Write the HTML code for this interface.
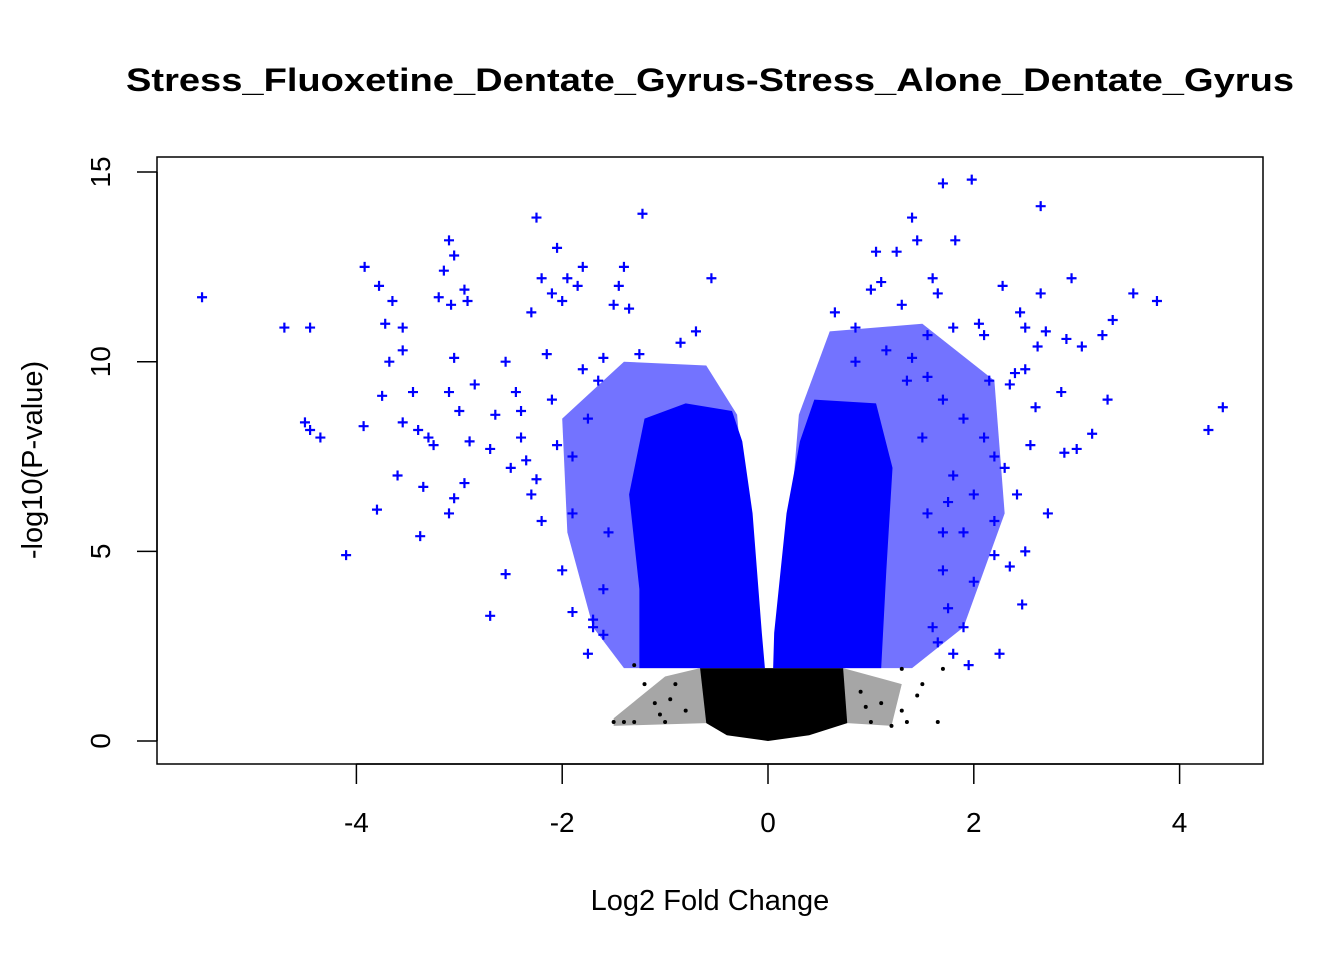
<!DOCTYPE html>
<html><head><meta charset="utf-8"><style>
body{margin:0;background:#fff}
svg text{font-family:"Liberation Sans",Arial,sans-serif}
</style></head><body>
<svg id="chart" width="1344" height="960" xmlns="http://www.w3.org/2000/svg">
<rect width="1344" height="960" fill="#fff"/>
<text x="710" y="91" font-size="32" font-weight="bold" text-anchor="middle" textLength="1168" lengthAdjust="spacingAndGlyphs">Stress_Fluoxetine_Dentate_Gyrus-Stress_Alone_Dentate_Gyrus</text>
<g id="marks"></g>
<rect x="157" y="157" width="1106" height="607" fill="none" stroke="#000" stroke-width="1.5"/>
<g id="axes"></g>
<text x="710" y="910" font-size="29" text-anchor="middle">Log2 Fold Change</text>
<text transform="translate(42,460) rotate(-90)" font-size="29" text-anchor="middle">-log10(P-value)</text>
</svg>
<script>
const xTicks=[-4,-2,0,2,4];
const yTicks=[0,5,10,15];
const sigX=[-5.5,-4.7,-4.45,-4.5,-4.45,-4.35,-4.1,-3.92,-3.93,-3.8,-3.78,-3.75,-3.72,-3.68,-3.65,-3.55,-3.55,-3.55,-3.6,-3.45,-3.4,-3.38,-3.35,-3.3,-3.25,-3.2,-3.15,-3.1,-3.05,-3.08,-3.05,-3.0,-3.1,-3.1,-3.05,-2.95,-2.95,-2.92,-2.9,-2.85,-2.7,-2.7,-2.65,-2.55,-2.55,-2.5,-2.45,-2.4,-2.3,-2.25,-2.2,-2.15,-2.1,-2.05,-2.0,-1.95,-1.85,-1.8,-1.75,-1.7,-1.5,-1.45,-1.4,-1.35,-1.22,-1.25,-0.85,-0.7,-0.55,-2.0,-1.9,-2.2,-2.3,-1.8,-2.1,-1.9,-1.6,-1.7,-1.6,-1.55,-1.9,-2.05,-1.75,-1.65,-1.6,-2.4,-2.25,-2.35,
1.7,1.98,2.65,1.4,1.45,1.82,1.25,1.05,1.6,1.65,2.28,2.95,3.55,3.78,2.65,2.45,3.35,3.25,3.05,2.9,2.7,2.62,2.5,2.1,1.8,1.55,1.3,1.0,0.65,4.42,4.28,3.3,3.15,3.0,2.88,2.85,2.72,2.5,2.47,2.42,2.35,2.25,2.2,1.9,1.8,1.75,2.6,2.5,2.35,2.2,2.1,2.0,1.9,2.3,2.4,2.55,2.05,2.15,2.0,1.7,1.95,0.85,1.15,1.4,1.35,1.7,1.1,0.85,1.6,1.7,1.55,1.8,1.5,1.65,1.75,1.9,2.2,1.55];
const sigY=[11.7,10.9,10.9,8.4,8.2,8.0,4.9,12.5,8.3,6.1,12.0,9.1,11.0,10.0,11.6,10.9,10.3,8.4,7.0,9.2,8.2,5.4,6.7,8.0,7.8,11.7,12.4,13.2,12.8,11.5,10.1,8.7,9.2,6.0,6.4,6.8,11.9,11.6,7.9,9.4,3.3,7.7,8.6,4.4,10.0,7.2,9.2,8.7,11.3,13.8,12.2,10.2,11.8,13.0,11.6,12.2,12.0,12.5,2.3,3.0,11.5,12.0,12.5,11.4,13.9,10.2,10.5,10.8,12.2,4.5,3.4,5.8,6.5,9.8,9.0,7.5,10.1,3.2,4.0,5.5,6.0,7.8,8.5,9.5,2.8,8.0,6.9,7.4,
14.7,14.8,14.1,13.8,13.2,13.2,12.9,12.9,12.2,11.8,12.0,12.2,11.8,11.6,11.8,11.3,11.1,10.7,10.4,10.6,10.8,10.4,10.9,10.7,10.9,10.7,11.5,11.9,11.3,8.8,8.2,9.0,8.1,7.7,7.6,9.2,6.0,5.0,3.6,6.5,4.6,2.3,4.9,3.0,2.3,3.5,8.8,9.8,9.4,7.5,8.0,6.5,8.5,7.2,9.7,7.8,11.0,9.5,4.2,5.5,2.0,10.9,10.3,10.1,9.5,9.0,12.1,10.0,3.0,4.5,6.0,7.0,8.0,2.6,6.3,5.5,5.8,9.6];
const leftSparseX=[-0.3,-0.6,-1.4,-2.0,-1.95,-1.7,-1.4,-0.1];
const leftSparseY=[8.6,9.9,10.0,8.5,5.5,3.0,1.92,1.92];
const rightSparseX=[0.3,0.6,1.5,2.2,2.3,1.9,1.4,0.1];
const rightSparseY=[8.6,10.8,11.0,9.5,6.0,3.0,1.92,1.92];
const leftLobeX=[-0.03,-0.06,-0.15,-0.25,-0.35,-0.8,-1.2,-1.35,-1.25,-1.25];
const leftLobeY=[1.92,2.85,6.0,7.9,8.7,8.9,8.5,6.5,4.0,1.92];
const rightLobeX=[0.05,0.06,0.18,0.31,0.45,1.05,1.21,1.15,1.1];
const rightLobeY=[1.92,2.85,6.0,7.9,9.0,8.9,7.2,4.5,1.92];
const coreX=[-0.66,0.73,0.77,0.4,0,-0.4,-0.6];
const coreY=[1.92,1.92,0.47,0.15,0,0.15,0.47];
const nsSparseX=[-0.66,-1.0,-1.5,-1.5,-0.6,0.73,1.3,1.2,0.77];
const nsSparseY=[1.92,1.7,0.6,0.4,0.47,1.92,1.5,0.4,0.47];
const nsX=[-1.0,-1.3,-1.5,-1.1,-1.2,-0.9,-1.3,1.65,1.5,1.3,1.1,1.0,1.3,1.7,1.35,-0.8,0.9,-1.4,-1.05,1.2,0.95,-0.95,1.45];
const nsY=[0.5,0.5,0.5,1.0,1.5,1.5,2.0,0.5,1.5,1.9,1.0,0.5,0.8,1.9,0.5,0.8,1.3,0.5,0.7,0.4,0.9,1.1,1.2];
const X=v=>768+v*102.9, Y=v=>741-v*37.93;
const NS="http://www.w3.org/2000/svg";
const marks=document.getElementById('marks'), axes=document.getElementById('axes');
function mk(tag,attrs,parent){const e=document.createElementNS(NS,tag);for(const k in attrs)e.setAttribute(k,attrs[k]);parent.appendChild(e);return e;}
function poly(xs,ys,fill,op,name){const p=mk('polygon',{points:xs.map((x,i)=>X(x)+','+Y(ys[i])).join(' '),fill:fill,'fill-opacity':op,stroke:'none'},marks);

}
poly(nsSparseX,nsSparseY,'#000',0.35,'nonsignificant-sparse');
poly(coreX,coreY,'#000',1,'nonsignificant-core');
poly(leftSparseX,leftSparseY,'#0000ff',0.55,'significant-left-sparse');
poly(rightSparseX,rightSparseY,'#0000ff',0.55,'significant-right-sparse');
poly(leftLobeX,leftLobeY,'#0000ff',1,'significant-left-lobe');
poly(rightLobeX,rightLobeY,'#0000ff',1,'significant-right-lobe');
nsX.forEach((v,i)=>{const c=mk('circle',{cx:X(v),cy:Y(nsY[i]),r:2,fill:'#000'},marks);

});
sigX.forEach((v,i)=>{const x=X(v),y=Y(sigY[i]);const p=mk('path',{d:`M${x-5} ${y}H${x+5}M${x} ${y-5}V${y+5}`,stroke:'#0000ff','stroke-width':2.2},marks);

});
xTicks.forEach(t=>{mk('line',{x1:X(t),x2:X(t),y1:764,y2:784,stroke:'#000','stroke-width':1.5},axes);
const s=mk('text',{x:X(t),y:832,'font-size':28,'text-anchor':'middle'},axes);s.textContent=t;

});
yTicks.forEach(t=>{mk('line',{x1:137,x2:157,y1:Y(t),y2:Y(t),stroke:'#000','stroke-width':1.5},axes);
const s=mk('text',{transform:`translate(110,${Y(t)}) rotate(-90)`,'font-size':28,'text-anchor':'middle'},axes);s.textContent=t;

});
mk('line',{x1:X(-4),x2:X(4),y1:764,y2:764,stroke:'#000','stroke-width':1.5},axes);
mk('line',{x1:157,x2:157,y1:Y(0),y2:Y(15),stroke:'#000','stroke-width':1.5},axes);
</script>
</body></html>
